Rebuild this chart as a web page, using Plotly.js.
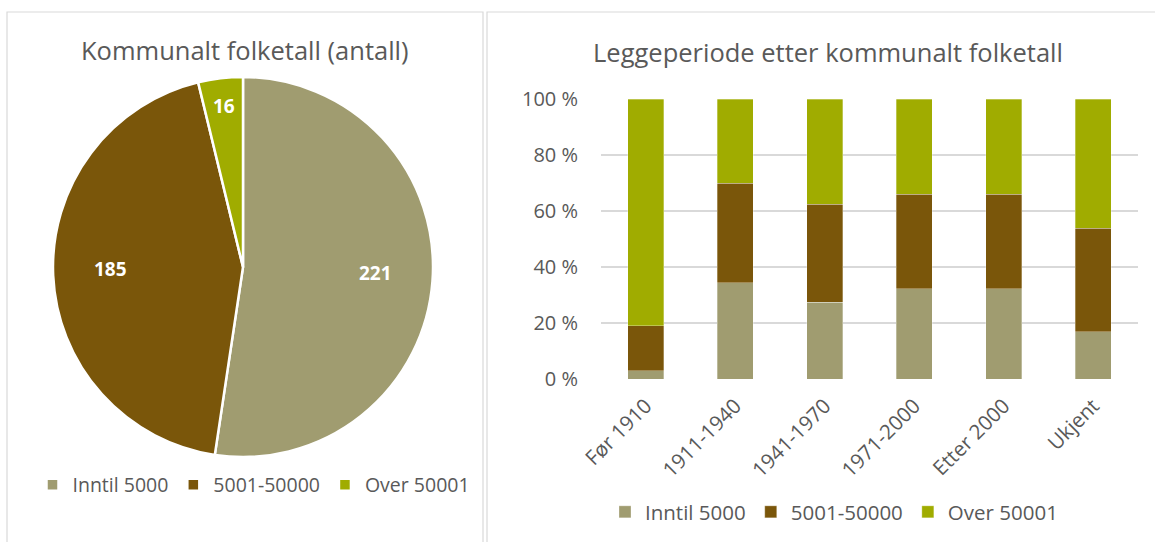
<!DOCTYPE html>
<html>
<head>
<meta charset="utf-8">
<script src="https://cdn.plot.ly/plotly-3.0.1.min.js"></script>
<style>
html,body{margin:0;padding:0;background:#fff;}
#chart{width:1155px;height:542px;}
</style>
</head>
<body>
<div id="chart"></div>
<script>
// ---- data ----
const sizeClasses = ["Inntil 5000", "5001-50000", "Over 50001"];
const pieCounts = [221, 185, 16];

const periods = ["Før 1910", "1911-1940", "1941-1970", "1971-2000", "Etter 2000", "Ukjent"];
const shareInntil5000 = [3.0, 34.4, 27.4, 32.3, 32.3, 16.9];
const share5001to50000 = [16.1, 35.6, 35.1, 33.7, 33.7, 37.0];
const shareOver50001 = [80.9, 30.0, 37.5, 34.0, 34.0, 46.1];
const yTickVals = [0, 20, 40, 60, 80, 100];
const yTickText = ["0 %", "20 %", "40 %", "60 %", "80 %", "100 %"];

const colors = ["#A09C70", "#7A560A", "#A0AC00"];
const textColor = "#595959";
const FONT = "'Open Sans', 'Noto Sans', sans-serif";

const W = 1155, H = 542;
const px = v => v / W;
const py = v => 1 - v / H;

// pie geometry (pixels)
const PIE_CX = 243, PIE_CY = 267, PIE_R = 190;

// ---- traces ----
const pie = {
  type: "pie",
  labels: sizeClasses,
  values: pieCounts,
  sort: false,
  direction: "clockwise",
  rotation: 0,
  marker: { colors: colors, line: { color: "#FFFFFF", width: 2.5 } },
  textinfo: "none",
  domain: { x: [px(PIE_CX - PIE_R), px(PIE_CX + PIE_R)], y: [py(PIE_CY + PIE_R), py(PIE_CY - PIE_R)] },
  hoverinfo: "label+value",
  legend: "legend",
  showlegend: true
};

// value labels for the pie, placed at each slice's mid-angle (derived from the data)
const total = pieCounts.reduce((a, b) => a + b, 0);
let cum = 0;
const pieLabels = pieCounts.map(v => {
  const mid = (cum + v / 2) / total * 2 * Math.PI; // clockwise from 12 o'clock
  cum += v;
  const f = v / total < 0.1 ? 0.83 : 0.7;
  const x = PIE_CX + Math.sin(mid) * PIE_R * f;
  const y = PIE_CY - Math.cos(mid) * PIE_R * f;
  return {
    text: "<b>" + v + "</b>", xref: "paper", yref: "paper",
    x: px(x), y: py(y), xanchor: "center", yanchor: "middle", showarrow: false,
    yshift: 4,
    font: { size: 19, color: "#FFFFFF", family: FONT }
  };
});

const seriesVals = [shareInntil5000, share5001to50000, shareOver50001];
const bars = sizeClasses.map((name, i) => ({
  type: "bar",
  name: name,
  x: periods,
  y: seriesVals[i],
  marker: { color: colors[i], line: { color: "rgba(255,255,255,0.5)", width: 0.6 } },
  xaxis: "x",
  yaxis: "y",
  legend: "legend2",
  hovertemplate: "%{x}: %{y:.1f} %<extra>" + name + "</extra>"
}));

const layout = {
  width: W,
  height: H,
  margin: { l: 0, r: 0, t: 0, b: 0 },
  paper_bgcolor: "#FFFFFF",
  plot_bgcolor: "#FFFFFF",
  font: { family: FONT, color: textColor, size: 18 },
  barmode: "stack",
  bargap: 0.6,
  xaxis: {
    domain: [px(601), px(1138)],
    tickangle: -45,
    tickfont: { size: 20.5, color: textColor },
    showgrid: false,
    zeroline: false,
    showline: false,
    ticks: "",
    ticklabelstandoff: 10,
    fixedrange: true
  },
  yaxis: {
    domain: [py(379), py(99)],
    range: [0, 100],
    tickvals: yTickVals,
    ticktext: yTickText,
    tickfont: { size: 20, color: textColor },
    showgrid: true,
    gridcolor: "#D9D9D9",
    gridwidth: 1.5,
    zeroline: false,
    showline: false,
    ticks: "",
    ticklabelstandoff: 22,
    fixedrange: true
  },
  legend: {
    orientation: "h",
    x: px(254), xanchor: "center",
    y: py(485), yanchor: "middle",
    font: { size: 19.5, color: textColor },
    itemwidth: 30,
    traceorder: "normal",
    bgcolor: "rgba(0,0,0,0)"
  },
  legend2: {
    orientation: "h",
    x: px(834), xanchor: "center",
    y: py(512), yanchor: "middle",
    font: { size: 20.5, color: textColor },
    itemwidth: 30,
    traceorder: "normal",
    bgcolor: "rgba(0,0,0,0)"
  },
  annotations: [
    { text: "Kommunalt folketall (antall)", xref: "paper", yref: "paper",
      x: px(245), y: py(50), xanchor: "center", yanchor: "middle", showarrow: false,
      font: { size: 25.5, color: textColor } },
    { text: "Leggeperiode etter kommunalt folketall", xref: "paper", yref: "paper",
      x: px(828), y: py(52), xanchor: "center", yanchor: "middle", showarrow: false,
      font: { size: 25.5, color: textColor } }
  ].concat(pieLabels),
  shapes: [
    { type: "rect", xref: "paper", yref: "paper", x0: px(7), x1: px(483), y0: py(560), y1: py(12),
      line: { color: "#D9D9D9", width: 1.2 }, fillcolor: "rgba(0,0,0,0)", layer: "below" },
    { type: "rect", xref: "paper", yref: "paper", x0: px(487), x1: px(1175), y0: py(560), y1: py(12),
      line: { color: "#D9D9D9", width: 1.2 }, fillcolor: "rgba(0,0,0,0)", layer: "below" }
  ],
  hovermode: "closest"
};

Plotly.newPlot("chart", [pie, ...bars], layout, { displayModeBar: false, responsive: false });
</script>
</body>
</html>
